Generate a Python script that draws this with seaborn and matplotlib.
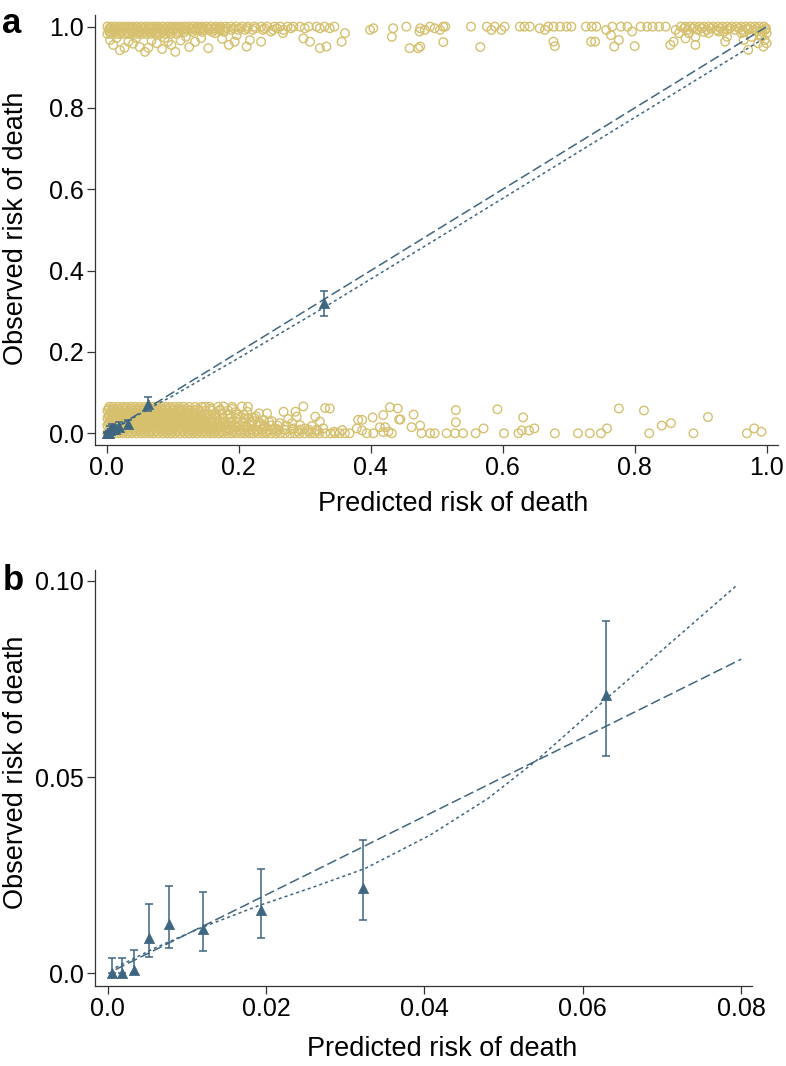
import matplotlib
matplotlib.use("Agg")
import matplotlib.pyplot as plt
import numpy as np
import pandas as pd
import seaborn as sns

# decile groups: mean predicted risk, observed risk and 95% CI
pred = [0.0006, 0.0018, 0.0033, 0.0052, 0.0078, 0.0120, 0.0194, 0.0323, 0.0629, 0.329]
obs = [0.0, 0.0, 0.0008, 0.0091, 0.0126, 0.0113, 0.0161, 0.0218, 0.0709, 0.320]
ci_low = [0.0, 0.0, 0.0, 0.0041, 0.0065, 0.0058, 0.0091, 0.0136, 0.0553, 0.289]
ci_high = [0.0039, 0.0039, 0.0059, 0.0176, 0.0222, 0.0207, 0.0266, 0.0339, 0.0898, 0.351]

# reference line and smoothed calibration curve, panel a
diag_a_x = [0.0, 1.0]
diag_a_y = [0.0, 1.0]
smooth_a_x = [0.0, 0.03, 0.063, 0.10, 0.20, 0.33, 0.50, 0.72, 1.0]
smooth_a_y = [0.0, 0.028, 0.060, 0.092, 0.185, 0.310, 0.478, 0.697, 0.975]

# panel b (zoom on low risk)
diag_b_x = [0.001, 0.08]
diag_b_y = [0.001, 0.08]
smooth_b_x = [0.001, 0.006, 0.012, 0.019, 0.026, 0.0325, 0.0407, 0.048, 0.0542, 0.063, 0.0795]
smooth_b_y = [0.0015, 0.0065, 0.0118, 0.0172, 0.022, 0.0267, 0.0352, 0.0445, 0.0543, 0.0700, 0.0989]

# jittered individual outcomes (deaths = 1, survivors = 0)
low_rows = {
    0.000: [0.001, 0.006, 0.012, 0.019, 0.025, 0.032, 0.038, 0.045, 0.052, 0.058, 0.065, 0.071,
            0.078, 0.085, 0.091, 0.098, 0.104, 0.111, 0.118, 0.124, 0.131, 0.137, 0.144, 0.150,
            0.157, 0.163, 0.170, 0.176, 0.183, 0.190, 0.196, 0.203, 0.209, 0.216, 0.222, 0.229,
            0.236, 0.242, 0.249, 0.256, 0.263, 0.270, 0.278, 0.285, 0.292, 0.300, 0.308, 0.315,
            0.322, 0.331, 0.339, 0.346, 0.353, 0.361, 0.368],
    0.005: [0.003, 0.011, 0.019, 0.027, 0.035, 0.043, 0.051, 0.059, 0.067, 0.075, 0.083, 0.091,
            0.099, 0.107, 0.115, 0.123, 0.131, 0.139, 0.147, 0.155, 0.164, 0.173, 0.182, 0.192,
            0.203, 0.215, 0.228, 0.242, 0.257],
    0.009: [0.004, 0.010, 0.016, 0.022, 0.029, 0.035, 0.042, 0.048, 0.055, 0.061, 0.068, 0.075,
            0.081, 0.088, 0.094, 0.101, 0.108, 0.114, 0.121, 0.127, 0.134, 0.141, 0.147, 0.154,
            0.160, 0.167, 0.174, 0.180, 0.187, 0.193, 0.200, 0.207, 0.213, 0.220, 0.227, 0.235,
            0.244, 0.252, 0.261, 0.270, 0.281, 0.293, 0.306, 0.318],
    0.014: [0.007, 0.015, 0.023, 0.031, 0.039, 0.047, 0.055, 0.063, 0.071, 0.079, 0.087, 0.095,
            0.103, 0.111, 0.119, 0.127, 0.135, 0.143, 0.152, 0.161, 0.171, 0.183, 0.196, 0.212],
    0.019: [0.001, 0.007, 0.013, 0.020, 0.026, 0.033, 0.039, 0.046, 0.052, 0.059, 0.066, 0.072,
            0.079, 0.085, 0.092, 0.098, 0.105, 0.112, 0.118, 0.125, 0.131, 0.138, 0.144, 0.151,
            0.158, 0.165, 0.172, 0.179, 0.186, 0.194, 0.202, 0.211, 0.219, 0.228, 0.238, 0.249,
            0.259, 0.272],
    0.024: [0.003, 0.011, 0.019, 0.027, 0.035, 0.043, 0.051, 0.059, 0.067, 0.075, 0.083, 0.091,
            0.099, 0.107, 0.115, 0.123, 0.131, 0.139, 0.148, 0.158, 0.169, 0.182],
    0.028: [0.004, 0.010, 0.017, 0.023, 0.030, 0.036, 0.043, 0.049, 0.056, 0.062, 0.069, 0.076,
            0.082, 0.089, 0.095, 0.102, 0.108, 0.115, 0.122, 0.128, 0.135, 0.141, 0.148, 0.156,
            0.163, 0.171, 0.179, 0.188, 0.197, 0.207, 0.218, 0.231, 0.246],
    0.033: [0.007, 0.015, 0.023, 0.031, 0.039, 0.047, 0.055, 0.063, 0.071, 0.079, 0.087, 0.095,
            0.103, 0.111, 0.119, 0.127, 0.136, 0.146, 0.157],
    0.037: [0.001, 0.007, 0.014, 0.020, 0.027, 0.033, 0.040, 0.046, 0.053, 0.059, 0.066, 0.073,
            0.079, 0.086, 0.092, 0.099, 0.105, 0.112, 0.119, 0.125, 0.132, 0.138, 0.145, 0.152,
            0.160, 0.168, 0.177, 0.186, 0.196, 0.209, 0.224],
    0.042: [0.003, 0.011, 0.019, 0.027, 0.035, 0.043, 0.051, 0.059, 0.067, 0.075, 0.083, 0.091,
            0.099, 0.107, 0.115, 0.124, 0.134, 0.145],
    0.046: [0.004, 0.010, 0.017, 0.023, 0.030, 0.036, 0.043, 0.049, 0.056, 0.063, 0.069, 0.076,
            0.082, 0.089, 0.095, 0.102, 0.109, 0.115, 0.122, 0.128, 0.135, 0.142, 0.149, 0.157,
            0.166, 0.175, 0.186, 0.199],
    0.051: [0.007, 0.015, 0.023, 0.031, 0.039, 0.047, 0.055, 0.063, 0.071, 0.079, 0.087, 0.095,
            0.103, 0.112, 0.122, 0.133],
    0.056: [0.001, 0.007, 0.014, 0.020, 0.027, 0.033, 0.040, 0.047, 0.053, 0.060, 0.066, 0.073,
            0.079, 0.086, 0.093, 0.099, 0.106, 0.112, 0.119, 0.126, 0.133, 0.141, 0.150, 0.160,
            0.171, 0.184],
    0.060: [0.003, 0.011, 0.019, 0.027, 0.035, 0.043, 0.051, 0.059, 0.067, 0.075, 0.083, 0.091,
            0.100, 0.110, 0.121, 0.138],
    0.065: [0.004, 0.010, 0.017, 0.024, 0.030, 0.037, 0.043, 0.050, 0.057, 0.063, 0.070, 0.076,
            0.083, 0.090, 0.096, 0.103, 0.110, 0.117, 0.125, 0.134, 0.144, 0.156, 0.169, 0.190,
            0.214],
}
low_sparse_x = [0.149, 0.177, 0.205, 0.213, 0.231, 0.243, 0.238, 0.268, 0.286, 0.288, 0.298, 0.316,
                0.323, 0.331, 0.293, 0.281, 0.306, 0.158, 0.165, 0.172, 0.183, 0.190, 0.195, 0.200,
                0.208, 0.215, 0.222, 0.226, 0.233, 0.240, 0.250, 0.256, 0.262, 0.270, 0.275, 0.283,
                0.290, 0.300, 0.311, 0.320, 0.328, 0.345, 0.357,
                0.338, 0.379, 0.381, 0.387, 0.387, 0.394, 0.404, 0.403, 0.419, 0.414, 0.422, 0.419,
                0.427, 0.432, 0.429, 0.441, 0.443, 0.445, 0.465, 0.462, 0.475, 0.477, 0.490, 0.497,
                0.515, 0.528, 0.529, 0.529, 0.540, 0.559, 0.571, 0.592, 0.602, 0.624, 0.629, 0.631,
                0.640, 0.648, 0.679, 0.714, 0.732, 0.749, 0.758, 0.776, 0.814, 0.822, 0.841, 0.855,
                0.889, 0.911, 0.970, 0.981, 0.992]
low_sparse_y = [0.065, 0.066, 0.066, 0.053, 0.049, 0.049, 0.033, 0.053, 0.053, 0.041, 0.066, 0.041,
                0.029, 0.062, 0.020, 0.025, 0.004, 0.060, 0.050, 0.058, 0.047, 0.060, 0.052, 0.040,
                0.045, 0.038, 0.030, 0.042, 0.022, 0.018, 0.030, 0.012, 0.025, 0.008, 0.035, 0.012,
                0.005, 0.012, 0.018, 0.006, 0.012, 0.004, 0.008,
                0.061, 0.012, 0.033, 0.033, 0.007, 0.000, 0.000, 0.039, 0.045, 0.015, 0.015, 0.003,
                0.004, 0.000, 0.064, 0.061, 0.034, 0.034, 0.046, 0.015, 0.019, 0.000, 0.000, 0.000,
                0.000, 0.000, 0.027, 0.057, 0.000, 0.000, 0.012, 0.059, 0.000, 0.000, 0.007, 0.039,
                0.007, 0.012, 0.000, 0.000, 0.000, 0.000, 0.012, 0.061, 0.056, 0.000, 0.019, 0.025,
                0.000, 0.040, 0.000, 0.012, 0.004]

high_rows = {
    1.000: [0.001, 0.007, 0.013, 0.020, 0.026, 0.033, 0.039, 0.046, 0.052, 0.059, 0.065, 0.072,
            0.078, 0.085, 0.092, 0.098, 0.105, 0.111, 0.118, 0.124, 0.131, 0.138, 0.144, 0.151,
            0.158, 0.165, 0.172, 0.180, 0.188, 0.196, 0.205, 0.214, 0.224, 0.234, 0.243, 0.254,
            0.263, 0.274, 0.283, 0.293, 0.306, 0.318, 0.330, 0.345,
            0.870, 0.877, 0.884, 0.891, 0.898, 0.905, 0.912, 0.919, 0.926, 0.933, 0.940, 0.947,
            0.954, 0.961, 0.968, 0.975, 0.982, 0.989, 0.996],
    0.996: [0.004, 0.011, 0.018, 0.025, 0.032, 0.040, 0.048, 0.056, 0.064, 0.072, 0.080, 0.088,
            0.096, 0.104, 0.112, 0.120, 0.128, 0.136, 0.145, 0.154, 0.163, 0.172, 0.182, 0.192,
            0.202, 0.213, 0.226, 0.239, 0.258, 0.279, 0.300, 0.323,
            0.875, 0.888, 0.902, 0.916, 0.930, 0.944, 0.958, 0.971, 0.985, 0.999],
    0.992: [0.004, 0.010, 0.017, 0.023, 0.030, 0.036, 0.043, 0.049, 0.056, 0.062, 0.069, 0.075,
            0.082, 0.088, 0.095, 0.101, 0.108, 0.115, 0.121, 0.128, 0.135, 0.141, 0.148, 0.155,
            0.163, 0.171, 0.179, 0.189, 0.199, 0.210, 0.221, 0.237, 0.252, 0.268,
            0.880, 0.895, 0.910, 0.925, 0.940, 0.952, 0.963, 0.972, 0.981, 0.990, 0.998],
    0.987: [0.004, 0.013, 0.022, 0.031, 0.040, 0.049, 0.058, 0.067, 0.076, 0.086, 0.096, 0.107,
            0.118, 0.130, 0.145, 0.160, 0.178, 0.905, 0.935, 0.965, 0.993],
    0.982: [0.001, 0.007, 0.014, 0.020, 0.027, 0.033, 0.040, 0.047, 0.053, 0.060, 0.067, 0.074,
            0.081, 0.089, 0.097, 0.106],
}
high_sparse_x = [0.020, 0.058, 0.104, 0.050, 0.033, 0.076, 0.093, 0.005, 0.134, 0.154, 0.194, 0.212,
                 0.217, 0.234, 0.164, 0.197, 0.249, 0.267, 0.298, 0.308, 0.323, 0.333, 0.338, 0.361,
                 0.356, 0.399, 0.404, 0.434, 0.432, 0.454, 0.474, 0.459, 0.472,
                 0.010, 0.015, 0.027, 0.040, 0.045, 0.063, 0.068, 0.084, 0.088, 0.098, 0.112, 0.120,
                 0.125, 0.143, 0.175, 0.185,
                 0.475, 0.482, 0.490, 0.497, 0.505, 0.510, 0.513, 0.510, 0.475, 0.552, 0.566, 0.576,
                 0.583, 0.588, 0.598, 0.603, 0.626, 0.633, 0.641, 0.656, 0.664, 0.669, 0.677, 0.687,
                 0.697, 0.677, 0.679,
                 0.704, 0.726, 0.735, 0.742, 0.734, 0.740, 0.757, 0.766, 0.764, 0.776, 0.769, 0.779,
                 0.789, 0.796, 0.800, 0.809, 0.819, 0.827, 0.837, 0.847, 0.854, 0.859, 0.862, 0.867,
                 0.877, 0.882, 0.892, 0.892, 0.912, 0.927, 0.937, 0.940, 0.962, 0.965, 0.972, 0.977,
                 0.985, 0.987, 0.992, 0.995, 1.000, 1.000, 0.997, 0.990]
high_sparse_y = [0.942, 0.938, 0.938, 0.950, 0.963, 0.959, 0.963, 0.967, 0.963, 0.947, 0.963, 0.951,
                 0.967, 0.963, 0.984, 0.979, 0.988, 0.984, 0.971, 0.963, 0.947, 0.951, 0.996, 0.984,
                 0.963, 0.992, 0.996, 0.996, 0.975, 1.000, 0.988, 0.947, 0.947,
                 0.955, 0.972, 0.948, 0.958, 0.972, 0.948, 0.966, 0.945, 0.972, 0.955, 0.966, 0.975,
                 0.950, 0.972, 0.970, 0.955,
                 0.996, 0.992, 1.000, 0.996, 0.992, 1.000, 1.000, 0.962, 0.951, 1.000, 0.950, 1.000,
                 0.992, 1.000, 0.992, 1.000, 1.000, 1.000, 1.000, 0.996, 0.992, 1.000, 1.000, 1.000,
                 1.000, 0.963, 0.952,
                 1.000, 1.000, 1.000, 1.000, 0.963, 0.963, 0.992, 1.000, 0.979, 0.967, 0.951, 1.000,
                 1.000, 0.988, 0.952, 1.000, 1.000, 1.000, 1.000, 1.000, 0.955, 0.963, 0.992, 0.984,
                 0.971, 0.984, 0.975, 0.955, 0.984, 0.988, 0.963, 0.975, 0.984, 0.967, 0.943, 0.975,
                 0.988, 0.959, 0.975, 0.951, 0.984, 0.959, 0.967, 0.980]

YELLOW = "#D6C06E"
BLUE = "#3E6681"
AXIS = "#333333"


def jitter_frame(rows, sparse_x, sparse_y):
    xs, ys = [], []
    for y, row in rows.items():
        xs += row
        ys += [y] * len(row)
    xs += sparse_x
    ys += sparse_y
    return pd.DataFrame({"pred": xs, "obs": ys})


individuals = pd.concat([jitter_frame(low_rows, low_sparse_x, low_sparse_y),
                         jitter_frame(high_rows, high_sparse_x, high_sparse_y)])

groups = pd.DataFrame({"pred": pred, "obs": obs, "lo": ci_low, "hi": ci_high})

sns.set_style("ticks")
plt.rcParams["font.family"] = ["Liberation Sans", "DejaVu Sans"]
plt.rcParams["text.color"] = "black"
plt.rcParams["axes.labelcolor"] = "black"

fig = plt.figure(figsize=(7.86, 10.66), dpi=100)
ax_a = fig.add_axes([0.12087, 0.58255, 0.86934, 0.40338])
ax_b = fig.add_axes([0.12087, 0.07505, 0.83626, 0.39024])


def draw_line(ax, x, y, dashes):
    sns.lineplot(x=x, y=y, ax=ax, color=BLUE, linewidth=1.1, zorder=3)
    ax.lines[-1].set_dashes(dashes)


def draw_groups(ax, data):
    ax.errorbar(data["pred"], data["obs"],
                yerr=[data["obs"] - data["lo"], data["hi"] - data["obs"]],
                fmt="none", ecolor=BLUE, elinewidth=1.1, capsize=3.2, capthick=1.1, zorder=4)
    sns.scatterplot(data=data, x="pred", y="obs", ax=ax, marker="^", s=55,
                    color=BLUE, edgecolor=BLUE, linewidth=0.5, zorder=5)


def style_axis(ax, xticks, xlabels, yticks, ylabels, xlim, ylim):
    ax.set_xlim(*xlim)
    ax.set_ylim(*ylim)
    ax.set_xticks(xticks, xlabels)
    ax.set_yticks(yticks, ylabels)
    ax.tick_params(labelsize=18, length=5.8, width=0.9, color=AXIS, labelcolor="black", pad=2)
    for side in ["left", "bottom"]:
        ax.spines[side].set_linewidth(0.9)
        ax.spines[side].set_color(AXIS)
    sns.despine(ax=ax)
    ax.set_xlabel("Predicted risk of death", fontsize=19.5)
    ax.set_ylabel("Observed risk of death", fontsize=19.5)


# panel a
sns.scatterplot(data=individuals, x="pred", y="obs", ax=ax_a, marker="o", s=38,
                color=YELLOW, facecolor="none", edgecolor=YELLOW, linewidth=1.0, zorder=2)
draw_line(ax_a, diag_a_x, diag_a_y, [6.5, 2.6])
draw_line(ax_a, smooth_a_x, smooth_a_y, [2.0, 2.0])
draw_groups(ax_a, groups)
style_axis(ax_a, [0, 0.2, 0.4, 0.6, 0.8, 1.0], ["0.0", "0.2", "0.4", "0.6", "0.8", "1.0"],
           [0, 0.2, 0.4, 0.6, 0.8, 1.0], ["0.0", "0.2", "0.4", "0.6", "0.8", "1.0"],
           (-0.0177, 1.0176), (-0.0288, 1.0286))
ax_a.xaxis.set_label_coords(0.524, -0.108)
ax_a.yaxis.set_label_coords(-0.0966, 0.505)

# panel b
draw_line(ax_b, diag_b_x, diag_b_y, [6.5, 2.6])
draw_line(ax_b, smooth_b_x, smooth_b_y, [2.0, 2.0])
draw_groups(ax_b, groups[groups["pred"] < 0.08])
style_axis(ax_b, [0, 0.02, 0.04, 0.06, 0.08], ["0.0", "0.02", "0.04", "0.06", "0.08"],
           [0, 0.05, 0.10], ["0.0", "0.05", "0.10"],
           (-0.0016, 0.0814), (-0.0032, 0.1027))
ax_b.xaxis.set_label_coords(0.528, -0.119)
ax_b.yaxis.set_label_coords(-0.1004, 0.514)

fig.text(0.003, 1 - 33 / 1066, "a", fontsize=25, fontweight="bold", va="baseline")
fig.text(0.003, 1 - 590 / 1066, "b", fontsize=25, fontweight="bold", va="baseline")

fig.savefig("out.png", dpi=100)
